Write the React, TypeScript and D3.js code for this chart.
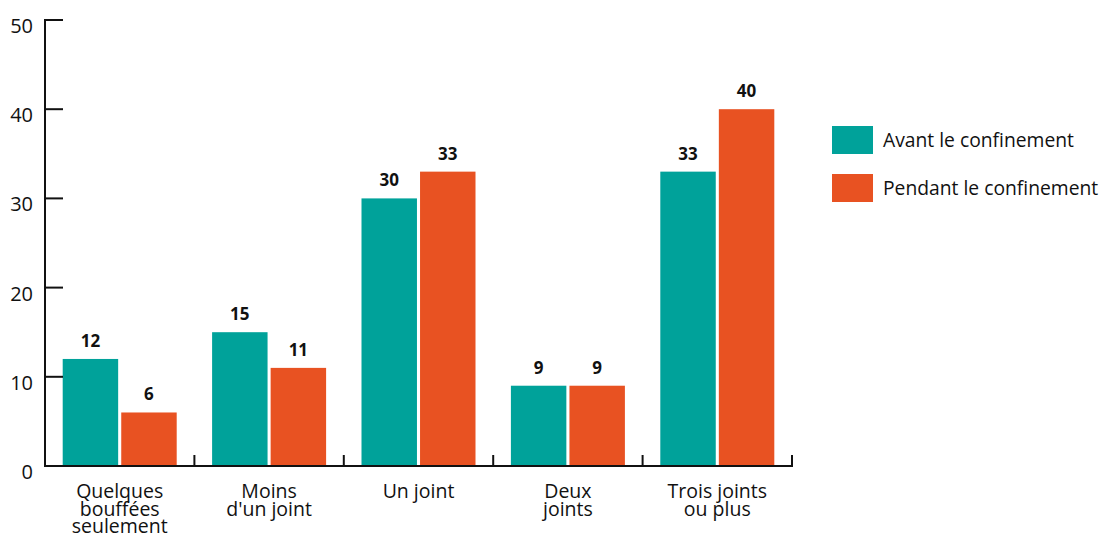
import React from "react";
import * as d3 from "d3";

const categories = ["Quelques bouffées seulement", "Moins d'un joint", "Un joint", "Deux joints", "Trois joints ou plus"];
const categoryLines = [["Quelques", "bouffées", "seulement"], ["Moins", "d'un joint"], ["Un joint"], ["Deux", "joints"], ["Trois joints", "ou plus"]];
const seriesNames = ["Avant le confinement", "Pendant le confinement"];
const avant = [12, 15, 30, 9, 33];
const pendant = [6, 11, 33, 9, 40];
const yTicks = [0, 10, 20, 30, 40, 50];
const colors = ["#00a29a", "#e85222"];

const FONT = "'Open Sans', 'Noto Sans', sans-serif";

export default function App() {
  const left = 45, right = 792, top = 20, bottom = 466;
  const x = d3.scaleBand<string>().domain(categories).range([left, right]).paddingInner(0).paddingOuter(0);
  const x1 = d3.scaleBand<number>().domain([0, 1]).range([0, 114]).paddingInner(6 / 114);
  const y = d3.scaleLinear().domain([0, 50]).range([bottom, top]);
  const series = [avant, pendant];
  const bw = x.bandwidth();
  const groupOffset = (bw - 114) / 2;
  const boundaries = [...categories.map((c) => x(c) as number), right];

  return (
    <svg width={1099} height={536} style={{ position: "absolute", left: 0, top: 0, fontFamily: FONT }}>
      {categories.map((c, i) =>
        series.map((s, j) => (
          <g key={c + j}>
            <rect
              x={(x(c) as number) + groupOffset + (x1(j) as number)}
              y={y(s[i])}
              width={x1.bandwidth()}
              height={bottom - y(s[i])}
              fill={colors[j]}
            />
            <text
              x={(x(c) as number) + groupOffset + (x1(j) as number) + x1.bandwidth() / 2}
              y={y(s[i]) - 12}
              textAnchor="middle"
              fontSize={17}
              fontWeight="bold"
              fill="#111"
            >
              {s[i]}
            </text>
          </g>
        ))
      )}
      {/* y axis */}
      <line x1={left} x2={left} y1={top - 1} y2={bottom + 1} stroke="#111" strokeWidth={2} />
      {yTicks.map((t) => (
        <g key={t}>
          <line x1={left} x2={left + 18} y1={y(t)} y2={y(t)} stroke="#111" strokeWidth={2} />
          <text x={33} y={y(t) + 13} textAnchor="end" fontSize={20} fill="#111">
            {t}
          </text>
        </g>
      ))}
      {/* x axis */}
      <line x1={left} x2={right + 1} y1={bottom} y2={bottom} stroke="#111" strokeWidth={2} />
      {boundaries.slice(1).map((b, i) => (
        <line key={i} x1={b} x2={b} y1={bottom} y2={bottom - 11} stroke="#111" strokeWidth={2} />
      ))}
      {categories.map((c, i) => (
        <text key={c} textAnchor="middle" fontSize={19.5} fill="#111">
          {categoryLines[i].map((l, k) => (
            <tspan key={k} x={(x(c) as number) + bw / 2} y={498 + k * 17.5}>
              {l}
            </tspan>
          ))}
        </text>
      ))}
      {/* legend */}
      {seriesNames.map((n, j) => (
        <g key={n}>
          <rect x={832} y={126 + j * 48} width={41} height={28} fill={colors[j]} />
          <text x={883} y={147 + j * 48} fontSize={19.3} fill="#111">
            {n}
          </text>
        </g>
      ))}
    </svg>
  );
}
